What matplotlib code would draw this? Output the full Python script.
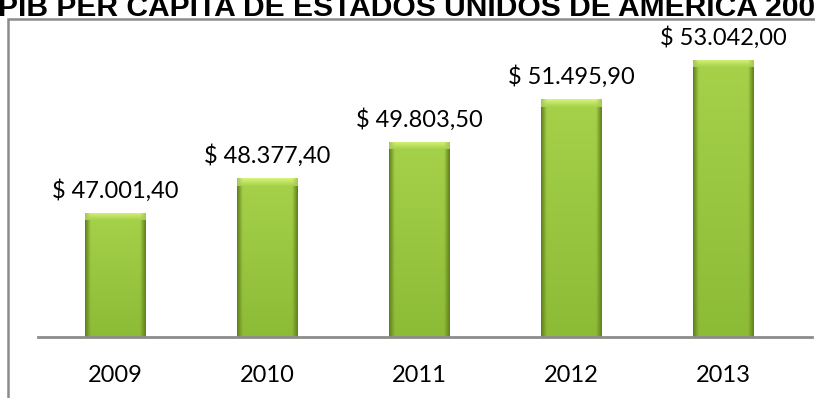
import numpy as np
import matplotlib.pyplot as plt
from matplotlib.colors import to_rgb
from matplotlib.patches import Rectangle

years = ["2009", "2010", "2011", "2012", "2013"]
pib = [47001.40, 48377.40, 49803.50, 51495.90, 53042.00]
labels = ["$ 47.001,40", "$ 48.377,40", "$ 49.803,50", "$ 51.495,90", "$ 53.042,00"]

titulo = "PIB PER CAPITA DE ESTADOS UNIDOS DE AMERICA 2009-2013"

y_min, y_max = 42100, 54200
ancho = 0.4

fig = plt.figure(figsize=(8.15, 3.98), dpi=100)
W, H = 815, 398

# marco gris del grafico (se corta por derecha y abajo)
fig.patches.append(Rectangle((8 / W, -0.1), 1.2, (H - 19) / H + 0.1,
                             transform=fig.transFigure, fill=False,
                             edgecolor="#8c8c8c", linewidth=1.8))

fig.text(-0.002, (H - 16) / H, titulo, fontsize=21.6, fontweight="bold",
         family="Liberation Sans", ha="left", va="baseline", color="black")

ax = fig.add_axes([38 / W, (H - 337) / H, (812 - 38) / W, 306.5 / H])
ax.set_xlim(-0.507, 4.586)
ax.set_ylim(y_min, y_max)
ax.patch.set_alpha(0)

x = np.arange(len(years))
bars = ax.bar(x, [v - y_min for v in pib], bottom=y_min, width=ancho,
              color="#8db53a", edgecolor="none", zorder=2)

# relleno con degradado tipo bisel
oscuro = np.array(to_rgb("#62821f"))
medio = np.array(to_rgb("#8cbb36"))
claro = np.array(to_rgb("#a6d24a"))
tapa = np.array(to_rgb("#d8f47c"))

n = 60
t = np.linspace(0, 1, n)
perfil = np.clip(np.minimum(t, 1 - t) / 0.09, 0, 1)[None, :, None]
filas = np.linspace(0, 1, 200)[:, None, None]   # 0 = arriba, 1 = abajo
base = claro * (1 - filas) + medio * filas
img = oscuro * (1 - perfil) + base * perfil

cap_h = 300
cap_filas = np.linspace(0, 1, 40)[:, None, None]
cap_base = tapa * (1 - cap_filas) + claro * cap_filas
cap_img = (oscuro * 0.4 + tapa * 0.6) * (1 - perfil) + cap_base * perfil

for xi, v, lab, b in zip(x, pib, labels, bars):
    im = ax.imshow(img, extent=(xi - ancho / 2, xi + ancho / 2, y_min, v),
                   aspect="auto", zorder=3, interpolation="bilinear")
    im.set_clip_path(b)
    ci = ax.imshow(cap_img, extent=(xi - ancho / 2, xi + ancho / 2, v - cap_h, v),
                   aspect="auto", zorder=4, interpolation="bilinear")
    ci.set_clip_path(b)
    ax.text(xi, v + 590, lab, ha="center", va="baseline",
            fontsize=17, family="Lato", color="black")

ax.axhline(y_min, color="#8c8c8c", linewidth=2, zorder=5, clip_on=False)

for s in ax.spines.values():
    s.set_visible(False)
ax.set_yticks([])
ax.set_xticks(x)
ax.set_xticklabels(years, fontsize=17, family="Lato")
ax.tick_params(axis="x", length=0, pad=20)

fig.savefig("out.png", dpi=100)
